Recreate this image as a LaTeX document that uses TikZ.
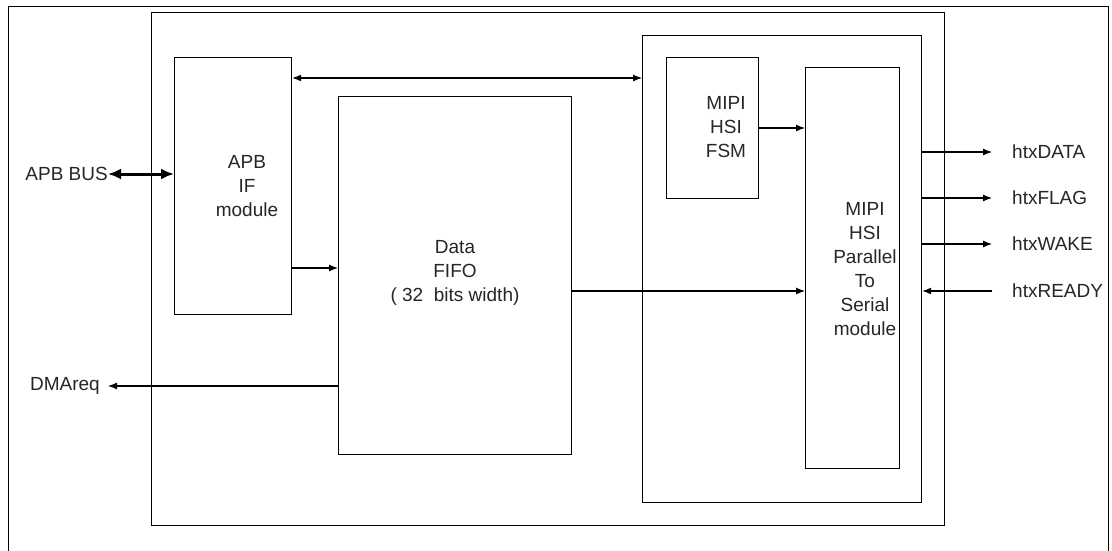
\documentclass[tikz,border=0pt]{standalone}
\usepackage{fontspec}
\setmainfont{Liberation Sans}
\usetikzlibrary{arrows.meta,calc}
\begin{document}
\begin{tikzpicture}[x=1pt,y=-1pt,
  every node/.style={font=\fontsize{19}{24}\selectfont, text=black!85},
  blk/.style={draw, line width=1.2pt, inner sep=0pt, anchor=north west},
  lbl/.style={align=center, inner sep=0pt},
  conn/.style={line width=1.1pt, -{Latex[length=9pt,width=7pt]}},
  biconn/.style={line width=1.1pt, {Latex[length=9pt,width=7pt]}-{Latex[length=9pt,width=7pt]}},
  busconn/.style={line width=3pt, {Latex[length=13pt,width=11pt]}-{Latex[length=13pt,width=11pt]}}]
\useasboundingbox (0,0) rectangle (1112,550);
\clip (0,0) rectangle (1112,550);
\fill[white] (0,0) rectangle (1112,550);
% frames
\node[blk, minimum width=1100pt, minimum height=560pt] (outer) at (8,6) {};
\node[blk, minimum width=793pt, minimum height=513pt] (top) at (151,12) {};
\node[blk, minimum width=117pt, minimum height=257pt] (apb) at (174,57) {};
\node[blk, minimum width=233pt, minimum height=358pt] (fifo) at (338,96) {};
\node[blk, minimum width=279pt, minimum height=467pt] (hsi) at (642,35) {};
\node[blk, minimum width=92pt, minimum height=141pt] (fsm) at (666,57) {};
\node[blk, minimum width=94pt, minimum height=401pt] (p2s) at (805,67) {};
% box texts
\node[lbl] (apbtxt) at (247,186) {APB\\IF\\module};
\node[lbl] (fifotxt) at (455,273) {Data\\FIFO\\( 32\ \ bits width)};
\node[lbl] (fsmtxt) at (726,127) {MIPI\\HSI\\FSM};
\node[lbl] (p2stxt) at (865,269) {MIPI\\HSI\\Parallel\\To\\Serial\\module};
% external labels
\node[anchor=east, inner sep=0pt] (apbbus) at (108,174) {APB BUS};
\node[anchor=east, inner xsep=8pt, inner ysep=0pt] (dma) at (108,386) {DMAreq};
\node[anchor=west, inner xsep=20pt, inner ysep=0pt] (hdata) at (992,152) {htxDATA};
\node[anchor=west, inner xsep=20pt, inner ysep=0pt] (hflag) at (992,198) {htxFLAG};
\node[anchor=west, inner xsep=20pt, inner ysep=0pt] (hwake) at (992,244) {htxWAKE};
\node[anchor=west, inner xsep=20pt, inner ysep=0pt] (hready) at (992,291) {htxREADY};
% helper coordinates
\coordinate (ytop) at (0,78);
\coordinate (yapbfifo) at (0,268);
\coordinate (yfifop2s) at (0,291);
% connectors
\draw[busconn] (apbbus.east) -- (apbbus.east -| apb.west);
\draw[biconn] (apb.east |- ytop) -- (hsi.west |- ytop);
\draw[conn] (apb.east |- yapbfifo) -- (fifo.west |- yapbfifo);
\draw[conn] (fifo.west |- dma.east) -- (dma.east);
\draw[conn] (fifo.east |- yfifop2s) -- (p2s.west |- yfifop2s);
\draw[conn] (fsm.east |- {(0,128)}) -- (p2s.west |- {(0,128)});
\draw[conn] (hsi.east |- hdata.west) -- (hdata.west);
\draw[conn] (hsi.east |- hflag.west) -- (hflag.west);
\draw[conn] (hsi.east |- hwake.west) -- (hwake.west);
\draw[conn] (hready.west) -- (hsi.east |- hready.west);
\end{tikzpicture}
\end{document}
